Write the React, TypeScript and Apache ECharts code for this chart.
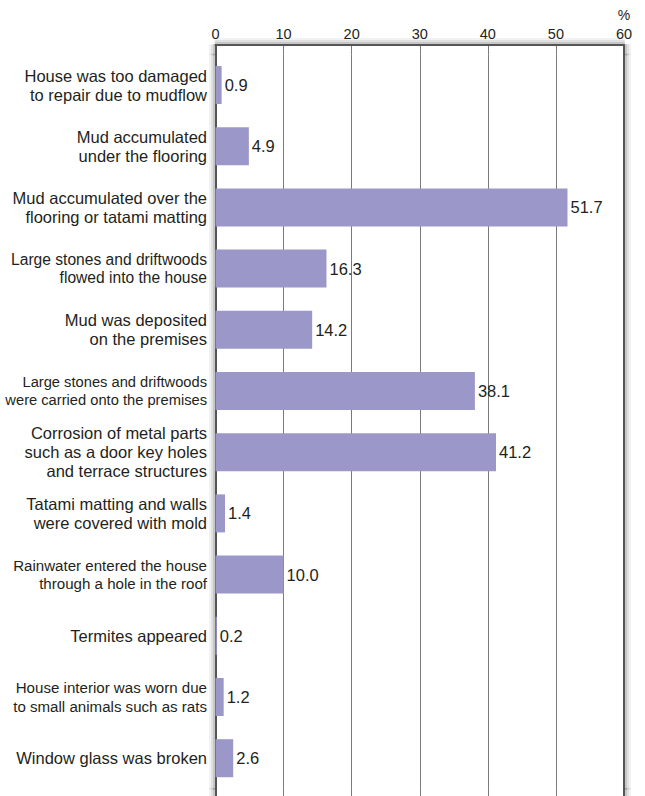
import React, { useEffect, useRef } from "react";
import * as echarts from "echarts";

const categories = [
  "House was too damaged\nto repair due to mudflow",
  "Mud accumulated\nunder the flooring",
  "Mud accumulated over the\nflooring or tatami matting",
  "Large stones and driftwoods\nflowed into the house",
  "Mud was deposited\non the premises",
  "Large stones and driftwoods\nwere carried onto the premises",
  "Corrosion of metal parts\nsuch as a door key holes\nand terrace structures",
  "Tatami matting and walls\nwere covered with mold",
  "Rainwater entered the house\nthrough a hole in the roof",
  "Termites appeared",
  "House interior was worn due\nto small animals such as rats",
  "Window glass was broken",
];

const values = [0.9, 4.9, 51.7, 16.3, 14.2, 38.1, 41.2, 1.4, 10.0, 0.2, 1.2, 2.6];

const xTicks = { min: 0, max: 60, interval: 10 };
const unitLabel = "%";

export default function App() {
  const ref = useRef<HTMLDivElement>(null);

  useEffect(() => {
    if (!ref.current) return;
    const chart = echarts.init(ref.current, null, { renderer: "svg" });

    const FONT = "'Liberation Sans', Arial, Helvetica, sans-serif";
    const TXT = "#231f20";
    const L = 215.5;
    const R = 21;
    const labelStyleByIndex: Record<number, string> = { 3: "l", 5: "s", 8: "m", 10: "m" };

    const mainLine = { show: true, onZero: false, lineStyle: { color: "#555", width: 2 } };
    const shadowLayers = [
      { off: 2, color: "rgba(0,0,0,0.22)" },
      { off: 4, color: "rgba(0,0,0,0.12)" },
      { off: 6, color: "rgba(0,0,0,0.05)" },
    ];
    const split = { show: true, lineStyle: { color: "#7a7a7a", width: 1 } };

    const xBase = {
      type: "value" as const,
      min: xTicks.min,
      max: xTicks.max,
      interval: xTicks.interval,
      axisTick: { show: false },
    };

    const plainY = (gridIndex: number, position: "left" | "right", offset: number, lineStyle: any) => ({
      type: "category" as const,
      gridIndex,
      position,
      offset,
      data: ["x"],
      axisLine: { show: true, onZero: false, lineStyle },
      axisTick: { show: false },
      axisLabel: { show: false },
      splitLine: { show: false },
      z: 1,
    });

    const yAxes: any[] = [];
    const series: any[] = [];
    const grids = [
      { left: L, right: R, top: 45, height: 9.4 },
      { left: L, right: R, top: 54.4, height: 734.4 },
      { left: L, right: R, top: 788.8, height: 8.2 },
    ];

    grids.forEach((_, gi) => {
      (["left", "right"] as const).forEach((pos) => {
        shadowLayers.forEach((s) => {
          yAxes.push(plainY(gi, pos, s.off, { color: s.color, width: 2 }));
        });
      });
    });

    const catAxisIndex = yAxes.length;
    yAxes.push({
      type: "category",
      gridIndex: 1,
      position: "left",
      inverse: true,
      data: categories,
      axisLine: mainLine,
      axisTick: { show: false },
      axisLabel: {
        margin: 8.5,
        color: TXT,
        fontFamily: FONT,
        align: "right",
        formatter: (v: string, i: number) => {
          const st = labelStyleByIndex[i] || "d";
          return v
            .split("\n")
            .map((line) => `{${st}|${line}}`)
            .join("\n");
        },
        rich: {
          d: { fontSize: 16.5, lineHeight: 19, color: TXT, fontFamily: FONT, align: "right" },
          l: { fontSize: 15.6, lineHeight: 18.5, color: TXT, fontFamily: FONT, align: "right" },
          m: { fontSize: 15.1, lineHeight: 18.5, color: TXT, fontFamily: FONT, align: "right" },
          s: { fontSize: 14.7, lineHeight: 18, color: TXT, fontFamily: FONT, align: "right" },
        },
      },
    });
    yAxes.push(plainY(1, "right", 0, { color: "#555", width: 2 }));
    yAxes.push(plainY(0, "left", 0, { color: "#555", width: 2 }));
    yAxes.push(plainY(0, "right", 0, { color: "#555", width: 2 }));
    yAxes.push(plainY(2, "left", 0, { color: "#555", width: 2 }));
    yAxes.push(plainY(2, "right", 0, { color: "#555", width: 2 }));

    const xAxes: any[] = [
      { ...xBase, gridIndex: 1, axisLine: { show: false }, axisLabel: { show: false }, splitLine: split },
      { ...xBase, gridIndex: 2, axisLine: { show: false }, axisLabel: { show: false }, splitLine: split },
      {
        ...xBase,
        gridIndex: 0,
        position: "top",
        axisLine: mainLine,
        splitLine: split,
        axisLabel: { show: true, color: TXT, fontSize: 14.5, fontFamily: FONT, margin: 3.5 },
      },
    ];
    shadowLayers.forEach((s) => {
      xAxes.push({
        ...xBase,
        gridIndex: 0,
        position: "top",
        offset: s.off,
        axisLine: { show: true, onZero: false, lineStyle: { color: s.color, width: 2 } },
        axisLabel: { show: false },
        splitLine: { show: false },
      });
    });

    series.push({
      type: "bar",
      xAxisIndex: 0,
      yAxisIndex: catAxisIndex,
      data: values,
      barWidth: 38,
      itemStyle: { color: "#9b97c8" },
      label: {
        show: true,
        position: "right",
        distance: 3,
        color: TXT,
        fontSize: 16.5,
        fontFamily: FONT,
        formatter: (p: any) => Number(p.value).toFixed(1),
      },
    });

    chart.setOption({
      animation: false,
      grid: grids,
      xAxis: xAxes,
      yAxis: yAxes,
      graphic: [
        {
          type: "text",
          x: 624,
          y: 15,
          style: {
            text: unitLabel,
            fontSize: 14,
            fontFamily: FONT,
            fill: TXT,
            align: "center",
            verticalAlign: "middle",
          },
        },
      ],
      series,
    });

    return () => chart.dispose();
  }, []);

  return (
    <div
      ref={ref}
      style={{ position: "absolute", left: 0, top: 0, width: 645, height: 796 }}
    />
  );
}
